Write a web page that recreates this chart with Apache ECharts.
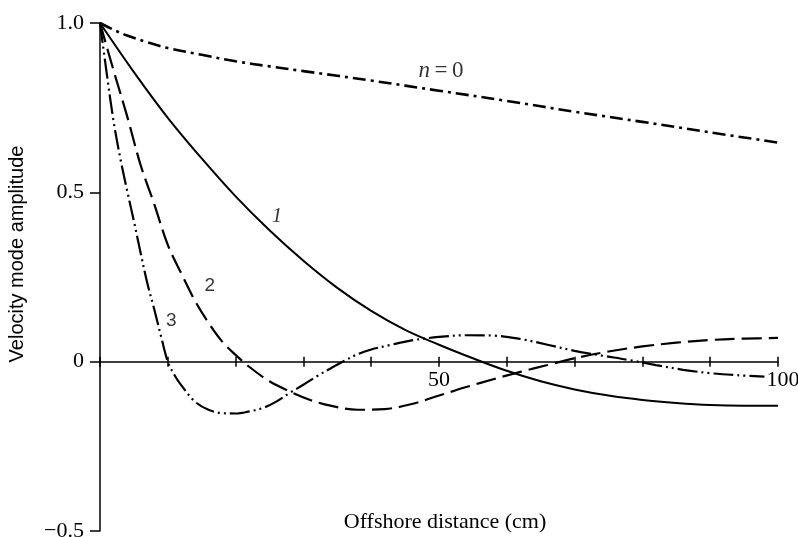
<!DOCTYPE html>
<html><head><meta charset="utf-8">
<script src="https://cdn.jsdelivr.net/npm/echarts@6/dist/echarts.min.js"></script>
<style>html,body{margin:0;padding:0;background:#fff}#c{width:798px;height:537px}</style>
</head><body><div id="c"></div>
<script>
// ---- data ----
const n0X = [0,2,4,7,10,15,20,25,30,40,50,60,70,80,90,100];
const n0Y = [1,0.98,0.963,0.943,0.926,0.906,0.887,0.872,0.858,0.83,0.8,0.77,0.738,0.708,0.677,0.647];

const n1X = [0,5,10,15,20,25,30,35,40,45,50,55,60,65,70,75,80,85,90,95,100];
const n1Y = [1,0.855,0.72,0.6,0.488,0.388,0.298,0.218,0.15,0.094,0.05,0.01,-0.027,-0.058,-0.082,-0.1,-0.113,-0.122,-0.128,-0.13,-0.13];

const n2X = [0,2,4,6,8,10,12,14,16,18,20,22,25,28,31,34,38,42,46,50,54,58,62,66,70,75,80,85,90,95,100];
const n2Y = [1,0.86,0.725,0.58,0.465,0.345,0.26,0.18,0.115,0.06,0.02,-0.015,-0.058,-0.088,-0.113,-0.13,-0.142,-0.14,-0.125,-0.1,-0.075,-0.052,-0.03,-0.01,0.01,0.03,0.045,0.056,0.064,0.068,0.07];

const n3X = [0,1,2,3,4,5,6,7,8,9,10,11,12,14,16,18,20,22,24,26,28,30,32,34,36,38,40,43,46,50,54,58,62,66,70,74,78,82,86,90,94,98];
const n3Y = [1,0.85,0.71,0.6,0.505,0.415,0.32,0.23,0.155,0.075,0,-0.04,-0.07,-0.118,-0.142,-0.152,-0.153,-0.147,-0.137,-0.118,-0.092,-0.068,-0.043,-0.02,0.002,0.022,0.036,0.05,0.063,0.073,0.078,0.077,0.067,0.05,0.032,0.018,0.005,-0.01,-0.024,-0.034,-0.04,-0.044];

const xTickLabels = {50: '50', 100: '100'};
const yTickLabels = {'1': '1.0', '0.5': '0.5', '0': '0', '-0.5': '\u22120.5'};

// curve labels: [x, y, text]
const curveLabels = [
  [50.3, 0.859, '{n|n}{u|\u2009=\u20090}'],
  [26.1, 0.429, '{i|1}'],
  [16.2, 0.224, '{s|2}'],
  [10.5, 0.121, '{s|3}']
];

const zip = (xs, ys) => xs.map((x, i) => [x, ys[i]]);
const INK = '#000';
const serif = '"Liberation Serif", "DejaVu Serif", serif';
const sans = '"Liberation Sans", Arial, sans-serif';

function lineSeries(name, xs, ys, dash, width) {
  return {
    name, type: 'line', data: zip(xs, ys), smooth: 0.35, showSymbol: false,
    xAxisIndex: 0, yAxisIndex: 0,
    lineStyle: {color: INK, width: width, type: dash, cap: 'butt'},
    z: 3
  };
}

// plot box
const H = 537, TOP = 23, BOT = 6, YMIN = -0.5, YMAX = 1.0;
const zeroPx = TOP + (H - TOP - BOT) * (YMAX - 0) / (YMAX - YMIN);
const common = {left: 100, right: 20, containLabel: false, outerBoundsMode: 'none'};

const chart = echarts.init(document.getElementById('c'), null, {renderer: 'canvas'});
chart.setOption({
  animation: false,
  backgroundColor: '#fff',
  grid: [
    Object.assign({top: TOP, bottom: BOT}, common),          // main plot
    Object.assign({top: TOP, bottom: H - zeroPx}, common),   // x axis at y = 0 (ticks down, labels)
    Object.assign({top: zeroPx, bottom: BOT}, common)        // x axis at y = 0 (ticks up)
  ],
  xAxis: [{
    gridIndex: 0, type: 'value', min: 0, max: 100, interval: 10, show: false
  }, {
    gridIndex: 1, type: 'value', min: 0, max: 100, interval: 10, position: 'bottom',
    axisLine: {show: true, onZero: false, lineStyle: {color: INK, width: 1.5}},
    axisTick: {show: true, length: 5, lineStyle: {color: INK, width: 1.5}},
    axisLabel: {
      margin: 8, color: INK, fontFamily: serif, fontSize: 22,
      formatter: v => v === 100 ? '{r|100}' : (xTickLabels[v] || ''),
      rich: {r: {padding: [0, 0, 0, 10], fontFamily: serif, fontSize: 22, color: INK}}
    },
    splitLine: {show: false}
  }, {
    gridIndex: 2, type: 'value', min: 0, max: 100, interval: 10, position: 'top',
    axisLine: {show: false, onZero: false},
    axisTick: {show: true, length: 5, lineStyle: {color: INK, width: 1.5}},
    axisLabel: {show: false},
    splitLine: {show: false}
  }],
  yAxis: [{
    gridIndex: 0, type: 'value', min: YMIN, max: YMAX, interval: 0.5,
    axisLine: {show: true, onZero: false, lineStyle: {color: INK, width: 1.5}},
    axisTick: {show: true, length: 10, lineStyle: {color: INK, width: 1.5}},
    axisLabel: {
      margin: 16, color: INK, fontFamily: serif, fontSize: 22,
      formatter: v => yTickLabels[String(v)] ?? ''
    },
    splitLine: {show: false}
  }, {
    gridIndex: 1, type: 'value', min: 0, max: 1, show: false
  }, {
    gridIndex: 2, type: 'value', min: 0, max: 1, show: false
  }],
  graphic: [
    {type: 'text', x: 17, y: 254, rotation: Math.PI / 2,
     style: {text: 'Velocity mode amplitude', font: '20px ' + sans, fill: INK, align: 'center', verticalAlign: 'middle'}},
    {type: 'text', x: 445, y: 522,
     style: {text: 'Offshore distance (cm)', font: '22px ' + serif, fill: INK, align: 'center', verticalAlign: 'middle'}}
  ],
  series: [
    lineSeries('n=0', n0X, n0Y, [13, 5, 3, 5], 2.6),
    lineSeries('1', n1X, n1Y, 'solid', 2),
    lineSeries('2', n2X, n2Y, [20, 7], 2.2),
    lineSeries('3', n3X, n3Y, [20, 4, 2, 4, 2, 4], 2.2),
    {
      type: 'scatter', data: curveLabels, symbolSize: 1, xAxisIndex: 0, yAxisIndex: 0,
      itemStyle: {color: 'rgba(0,0,0,0)'}, z: 5,
      label: {
        show: true, position: 'inside', color: INK,
        formatter: p => p.value[2],
        rich: {
          n: {fontStyle: 'italic', fontFamily: serif, fontSize: 23, color: INK},
          u: {fontFamily: serif, fontSize: 23, color: INK},
          i: {fontStyle: 'italic', fontFamily: serif, fontSize: 21, color: INK},
          s: {fontFamily: sans, fontSize: 19, color: INK}
        }
      }
    }
  ]
});
</script>
</body></html>
